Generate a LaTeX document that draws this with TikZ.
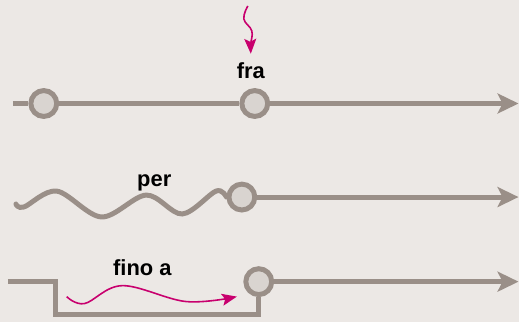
\documentclass[tikz,border=0pt]{standalone}
\usepackage{fontspec}
\setmainfont{Liberation Sans}
\usetikzlibrary{arrows.meta}

\definecolor{sfondo}{HTML}{ECE8E5}
\definecolor{linea}{HTML}{9A8F88}
\definecolor{punto}{HTML}{D9D4D0}
\definecolor{rosa}{HTML}{C8006E}

\begin{document}
\begin{tikzpicture}[x=1pt,y=-1pt,
		asse/.style={draw=linea,line width=5pt},
		freccia/.style={asse,-{Stealth[length=21pt,width=20pt,inset=5pt]}},
		punto/.style={circle,draw=linea,fill=punto,line width=5pt,minimum size=26pt,inner sep=0pt},
		etichetta/.style={anchor=base,font=\fontsize{22}{25}\selectfont\bfseries},
		mossa/.style={draw=rosa,line width=1.6pt,-{Stealth[length=15pt,width=12pt,inset=3pt]}}]
			\fill[sfondo] (0,0) rectangle (521,324);
			
			% fra
			\coordinate (a1) at (13,104);
			\node[punto] (p1) at (44,104) {};
			\node[punto] (p2) at (256,104) {};
			\coordinate (f1) at (521,104);
			\draw[asse] (a1) -- (p1);
			\draw[asse] (p1) -- (p2);
			\draw[freccia] (p2) -- (f1);
			\node[etichetta] (fra) at (252,79) {fra};
			\coordinate (m1) at (249,6);
			\draw[mossa] plot[smooth,tension=0.7] coordinates {(m1) (245,19) (253,31) (252,44) (252,54)};
			
			% per
			\node[punto] (p3) at (243,198) {};
			\coordinate (f2) at (521,198);
			\draw[asse,line cap=round] plot[smooth,tension=0.55] coordinates {(16,205) (24,208) (57,192) (102,218) (147,196) (183,215) (217,192) (p3.west)};
			\draw[freccia] (p3) -- (f2);
			\node[etichetta] (per) at (155,187) {per};
			
			% fino a
			\coordinate (a3) at (8,283);
			\node[punto] (p4) at (260,283) {};
			\coordinate (f3) at (521,283);
			\draw[asse] (a3) -- (56,283) -- (56,316) -- (260,316) -- (p4.south);
			\draw[freccia] (p4) -- (f3);
			\node[etichetta] (fino) at (143,277) {fino a};
			\draw[mossa] plot[smooth,tension=0.6] coordinates {(67,298) (85,305) (123,287) (187,303) (238,298)};
			
		\end{tikzpicture}
\end{document}
